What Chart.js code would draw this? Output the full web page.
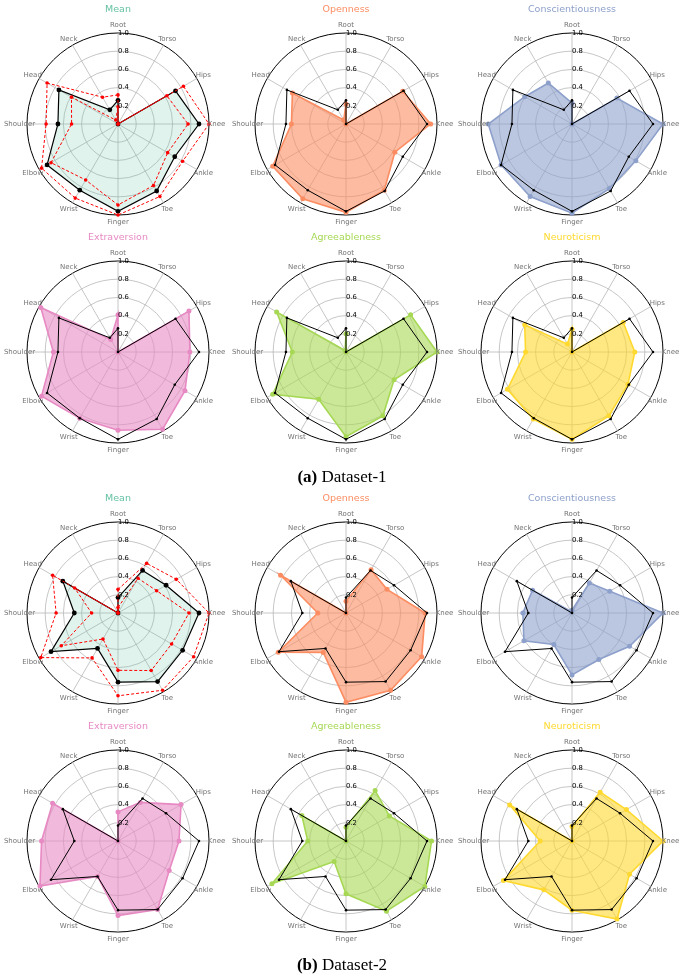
<!DOCTYPE html>
<html><head><meta charset="utf-8">
<script src="https://cdn.jsdelivr.net/npm/chart.js@4.4.1/dist/chart.umd.min.js"></script>
<style>
html,body{margin:0;padding:0;background:#fff;}
#wrap{position:relative;width:685px;height:975px;overflow:hidden;background:#fff;}
#wrap canvas{position:absolute;}
.title{position:absolute;font-family:'DejaVu Sans',sans-serif;font-size:9.5px;transform:translate(-50%,-50%);white-space:nowrap;}
.cap{position:absolute;font-family:'Liberation Serif',serif;font-size:17px;transform:translate(-50%,-50%);white-space:nowrap;color:#000;}
</style></head><body><div id="wrap"></div>
<script>
// ---------- data ----------
const joints = ['Root','Torso','Hips','Knee','Ankle','Toe','Finger','Wrist','Elbow','Shoulder','Head','Neck'];
const traits = ['Openness','Conscientiousness','Extraversion','Agreeableness','Neuroticism'];
const tickValues = [0.2, 0.4, 0.6, 0.8, 1.0];

// Dataset-1
const mean1  = [0.26, 0.00, 0.73, 0.89, 0.72, 0.85, 0.96, 0.84, 0.90, 0.66, 0.75, 0.18];
const upper1 = [0.32, 0.00, 0.83, 1.00, 0.82, 0.92, 1.00, 0.94, 0.97, 0.79, 0.90, 0.34];
const lower1 = [0.19, 0.00, 0.62, 0.77, 0.63, 0.78, 0.89, 0.71, 0.85, 0.51, 0.59, 0.05];
const open1  = [0.22, 0.00, 0.72, 0.93, 0.62, 0.84, 0.97, 0.95, 0.93, 0.60, 0.68, 0.05];
const consc1 = [0.23, 0.00, 0.57, 1.00, 0.81, 0.82, 0.98, 0.92, 0.90, 0.92, 0.60, 0.52];
const extra1 = [0.41, 0.00, 0.90, 0.79, 0.85, 0.98, 0.86, 0.84, 0.97, 0.71, 0.98, 0.16];
const agree1 = [0.20, 0.00, 0.82, 1.00, 0.61, 0.81, 0.93, 0.60, 0.93, 0.59, 0.88, 0.02];
const neuro1 = [0.25, 0.00, 0.65, 0.69, 0.71, 0.81, 0.96, 0.85, 0.82, 0.51, 0.60, 0.10];

// Dataset-2
const mean2  = [0.17, 0.54, 0.61, 0.89, 0.82, 0.87, 0.76, 0.45, 0.85, 0.48, 0.70, 0.00];
const upper2 = [0.26, 0.63, 0.74, 1.00, 0.96, 0.98, 0.91, 0.57, 0.98, 0.68, 0.83, 0.00];
const lower2 = [0.06, 0.44, 0.49, 0.78, 0.68, 0.73, 0.63, 0.33, 0.72, 0.29, 0.55, 0.00];
const open2  = [0.13, 0.55, 0.52, 0.87, 0.96, 0.98, 0.98, 0.50, 0.86, 0.31, 0.83, 0.00];
const consc2 = [0.03, 0.38, 0.48, 1.00, 0.73, 0.59, 0.68, 0.40, 0.61, 0.54, 0.50, 0.02];
const extra2 = [0.32, 0.49, 0.80, 0.67, 0.65, 0.87, 0.82, 0.45, 0.99, 0.84, 0.83, 0.00];
const agree2 = [0.15, 0.64, 0.55, 0.94, 1.00, 0.89, 0.58, 0.26, 0.94, 0.42, 0.56, 0.00];
const neuro2 = [0.16, 0.62, 0.69, 1.00, 0.73, 0.99, 0.76, 0.62, 0.87, 0.35, 0.79, 0.00];

// ---------- layout & style ----------
const colX = [118, 346, 572];
const rowY = [124, 352, 613, 841];
const RADIUS = 91;
const traitColors = {Mean:'#66c2a5', Openness:'#fc8d62', Conscientiousness:'#8da0cb', Extraversion:'#e78ac3', Agreeableness:'#a6d854', Neuroticism:'#ffd92f'};
function rgba(hex, a){const n=parseInt(hex.slice(1),16);return `rgba(${n>>16&255},${n>>8&255},${n&255},${a})`;}

const wrap = document.getElementById('wrap');

const pointLabelPlugin = {
  id: 'plabels',
  afterDraw(chart){
    const s = chart.scales.r, ctx = chart.ctx;
    ctx.save();
    ctx.font = '7px "DejaVu Sans"';
    ctx.fillStyle = '#747474';
    ctx.textAlign = 'center';
    ctx.textBaseline = 'middle';
    chart.data.labels.forEach((lab, i) => {
      const p = s.getPointPosition(i, s.drawingArea + 7.5);
      ctx.fillText(lab, p.x, p.y);
    });
    ctx.restore();
  }
};

function scaleOpts(){
  return { r: {
    min: 0, max: 1, startAngle: 0,
    afterBuildTicks: (sc) => { sc.ticks = [{value:0}].concat(tickValues.map(v => ({value:v}))); },
    ticks: { display:true, showLabelBackdrop:false, backdropPadding:0, color:'#000', z:1,
      font:{family:'DejaVu Sans', size:6.8},
      callback: v => '     ' + Number(v).toFixed(1) },
    grid: { circular:true,
      color: c => (c.tick && c.tick.value >= 0.999) ? '#000' : '#b8b8b8',
      lineWidth: c => (c.tick && c.tick.value >= 0.999) ? 1 : 0.8 },
    angleLines: { display:true, color:'#b8b8b8', lineWidth:0.8 },
    pointLabels: { display:false }
  }};
}

function makeChart(title, datasets, cx, cy){
  const cv = document.createElement('canvas');
  cv.width = 240; cv.height = 250;
  cv.style.width = '240px'; cv.style.height = '250px';
  wrap.appendChild(cv);
  const pad = {left:25, right:25, top:26, bottom:26};
  const chart = new Chart(cv.getContext('2d'), {
    type: 'radar',
    data: { labels: joints, datasets },
    options: {
      responsive:false, animation:false, devicePixelRatio:1,
      layout:{ padding: pad },
      elements:{ line:{ tension:0 } },
      plugins:{ legend:{display:false}, tooltip:{enabled:false} },
      scales: scaleOpts()
    },
    plugins:[pointLabelPlugin]
  });
  let s = chart.scales.r;
  const d = s.drawingArea - RADIUS;
  if (Math.abs(d) > 0.01) {
    chart.options.layout.padding = {left:pad.left + d, right:pad.right + d, top:pad.top + d, bottom:pad.bottom + d};
    chart.update();
    s = chart.scales.r;
  }
  cv.style.left = (cx - s.xCenter) + 'px';
  cv.style.top = (cy - s.yCenter) + 'px';
  const t = document.createElement('div');
  t.className = 'title';
  t.textContent = title;
  t.style.color = traitColors[title];
  t.style.left = cx + 'px';
  t.style.top = (cy - 116) + 'px';
  wrap.appendChild(t);
}

function meanSets(mean, upper, lower){
  const red = (d) => ({ data:d, borderColor:'#ff0000', borderWidth:1, borderDash:[3,2], fill:false,
    pointRadius:1.8, pointBackgroundColor:'#ff0000', pointBorderWidth:0, order:0 });
  return [ red(upper), red(lower),
    { data:mean, borderColor:'#000', borderWidth:1.2, backgroundColor:rgba(traitColors.Mean,0.2), fill:true,
      pointRadius:2.4, pointBackgroundColor:'#000', pointBorderWidth:0, order:1 } ];
}
function traitSets(mean, vals, name){
  const c = traitColors[name];
  return [
    { data:mean, borderColor:'#000', borderWidth:1, fill:false, pointRadius:1.3,
      pointBackgroundColor:'#000', pointBorderWidth:0, order:0 },
    { data:vals, borderColor:c, borderWidth:1.6, backgroundColor:rgba(c,0.6), fill:true,
      pointRadius:2.5, pointBackgroundColor:c, pointBorderWidth:0, order:1 } ];
}

const groups = [
  { mean:mean1, upper:upper1, lower:lower1, vals:[open1, consc1, extra1, agree1, neuro1], r0:0 },
  { mean:mean2, upper:upper2, lower:lower2, vals:[open2, consc2, extra2, agree2, neuro2], r0:2 }
];
groups.forEach(g => {
  makeChart('Mean', meanSets(g.mean, g.upper, g.lower), colX[0], rowY[g.r0]);
  traits.forEach((name, k) => {
    const idx = k + 1;
    const row = g.r0 + Math.floor(idx / 3), col = idx % 3;
    makeChart(name, traitSets(g.mean, g.vals[k], name), colX[col], rowY[row]);
  });
});

const caps = [['(a)', 'Dataset-1', 342, 477], ['(b)', 'Dataset-2', 342, 965]];
caps.forEach(c => {
  const d = document.createElement('div');
  d.className = 'cap';
  d.innerHTML = '<b>' + c[0] + '</b> ' + c[1];
  d.style.left = c[2] + 'px'; d.style.top = c[3] + 'px';
  wrap.appendChild(d);
});
</script></body></html>
